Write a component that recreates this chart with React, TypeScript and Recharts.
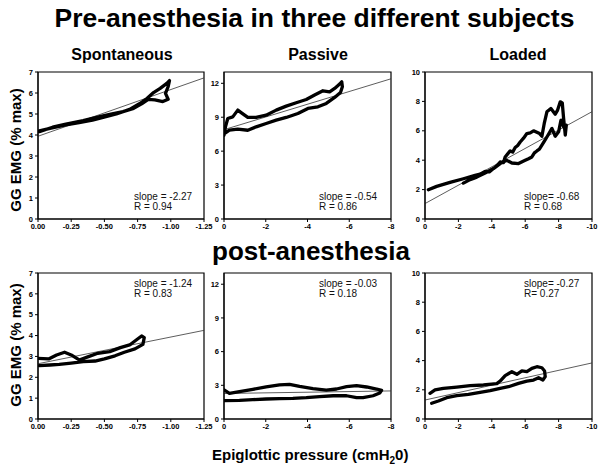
import { LineChart, Line, XAxis, YAxis, ReferenceArea } from "recharts";

type Pt = [number, number];

// epiglottic pressure (cmH2O) vs GG EMG (% max), traced loop by loop
const preSpontaneous: Pt[] = [
  [-0.01, 4.2], [-0.09, 4.32], [-0.21, 4.48], [-0.31, 4.59], [-0.41, 4.71],
  [-0.49, 4.84], [-0.59, 5.0], [-0.69, 5.22], [-0.77, 5.51], [-0.82, 5.74],
  [-0.87, 6.02], [-0.92, 6.22], [-0.97, 6.46], [-0.99, 6.59], [-0.98, 6.3],
  [-0.96, 5.98], [-0.98, 5.7], [-0.94, 5.59], [-0.88, 5.67], [-0.83, 5.7],
  [-0.78, 5.48], [-0.72, 5.27], [-0.64, 5.11], [-0.54, 4.98], [-0.44, 4.84],
  [-0.34, 4.68], [-0.21, 4.52], [-0.11, 4.37], [-0.01, 4.16],
];

const prePassive: Pt[] = [
  [0, 7.41], [-0.07, 8.15], [-0.18, 8.89], [-0.42, 9.03], [-0.66, 9.63],
  [-0.87, 9.34], [-1.14, 8.98], [-1.54, 8.98], [-2.02, 9.18], [-2.5, 9.63],
  [-2.98, 9.98], [-3.46, 10.28], [-3.94, 10.57], [-4.34, 10.96], [-4.74, 11.34],
  [-5.06, 11.25], [-5.3, 11.55], [-5.54, 11.93], [-5.64, 12.14], [-5.67, 11.7],
  [-5.58, 11.19], [-5.3, 10.75], [-4.9, 10.22], [-4.5, 9.92], [-4.02, 9.78],
  [-3.54, 9.33], [-2.98, 8.98], [-2.5, 8.74], [-2.02, 8.45], [-1.54, 8.15],
  [-1.14, 7.85], [-0.66, 7.94], [-0.26, 7.85], [-0.02, 7.56],
];

const preLoaded: Pt[] = [
  [-0.2, 1.99], [-0.7, 2.22], [-1.5, 2.49], [-2.3, 2.74], [-3.0, 2.97],
  [-3.3, 3.05], [-3.6, 3.24], [-3.85, 3.2], [-4.1, 3.43], [-4.3, 3.62],
  [-4.5, 3.88], [-4.7, 3.84], [-4.8, 4.22], [-5.0, 4.5], [-5.1, 4.63],
  [-5.25, 4.55], [-5.4, 4.86], [-5.55, 5.0], [-5.7, 5.24], [-5.9, 5.5],
  [-6.1, 5.81], [-6.3, 5.86], [-6.5, 6.0], [-6.86, 5.81], [-7.0, 5.63],
  [-7.14, 6.5], [-7.3, 7.29], [-7.54, 7.52], [-7.8, 7.13], [-7.94, 7.41],
  [-8.1, 7.97], [-8.22, 7.9], [-8.3, 6.84], [-8.4, 5.7], [-8.46, 6.38],
  [-8.3, 6.27], [-8.14, 6.72], [-8.0, 5.93], [-7.8, 5.63], [-7.6, 6.16],
  [-7.3, 5.58], [-7.15, 5.3], [-7.0, 5.02], [-6.85, 4.75], [-6.7, 4.63],
  [-6.55, 4.5], [-6.4, 4.22], [-6.2, 4.1], [-6.0, 3.99], [-5.6, 3.77],
  [-5.2, 3.81], [-4.9, 3.99], [-4.5, 3.77], [-4.1, 3.43], [-3.6, 3.13],
  [-3.1, 2.85], [-2.7, 2.68], [-2.3, 2.44],
];

const postSpontaneous: Pt[] = [
  [0, 2.91], [-0.08, 2.88], [-0.14, 3.07], [-0.2, 3.2], [-0.25, 3.07],
  [-0.31, 2.83], [-0.38, 2.99], [-0.45, 3.15], [-0.54, 3.23], [-0.62, 3.42],
  [-0.69, 3.55], [-0.74, 3.79], [-0.78, 3.98], [-0.8, 3.9], [-0.79, 3.58],
  [-0.73, 3.36], [-0.65, 3.2], [-0.58, 3.03], [-0.5, 2.88], [-0.43, 2.78],
  [-0.34, 2.75], [-0.25, 2.68], [-0.16, 2.62], [-0.09, 2.59], [-0.01, 2.56],
];

const postPassive: Pt[] = [
  [-0.02, 2.58], [-0.26, 2.29], [-0.74, 2.43], [-1.38, 2.64], [-2.02, 2.85],
  [-2.66, 3.03], [-3.14, 3.09], [-3.62, 2.91], [-4.26, 2.7], [-4.9, 2.58],
  [-5.39, 2.67], [-5.87, 2.88], [-6.35, 2.97], [-6.83, 2.85], [-7.31, 2.67],
  [-7.55, 2.55], [-7.46, 2.32], [-7.14, 2.07], [-6.66, 1.9], [-6.35, 1.9],
  [-5.87, 2.07], [-5.23, 2.07], [-4.58, 1.99], [-3.94, 1.9], [-3.3, 1.84],
  [-2.66, 1.81], [-2.02, 1.78], [-1.38, 1.72], [-0.74, 1.66], [-0.02, 1.63],
];

const postLoaded: Pt[] = [
  [-0.3, 1.76], [-0.6, 1.99], [-1.1, 2.1], [-1.9, 2.19], [-2.7, 2.28],
  [-3.5, 2.33], [-4.3, 2.42], [-4.5, 2.6], [-4.8, 2.97], [-5.2, 3.24],
  [-5.5, 3.06], [-5.8, 3.29], [-6.1, 3.24], [-6.4, 3.47], [-6.7, 3.58],
  [-7.0, 3.51], [-7.16, 3.29], [-7.2, 2.9], [-7.06, 2.67], [-6.8, 2.83],
  [-6.5, 2.67], [-6.1, 2.6], [-5.6, 2.44], [-5.0, 2.21], [-4.5, 2.1],
  [-3.9, 1.94], [-3.3, 1.83], [-2.6, 1.69], [-1.9, 1.6], [-1.3, 1.46],
  [-0.8, 1.23], [-0.4, 1.08],
];

const traces = [
  [preSpontaneous, prePassive, preLoaded],
  [postSpontaneous, postPassive, postLoaded],
];

// regression line, value at 0 and at the right end of the axis
const fitStart = [
  [3.94, 7.9, 1.05],
  [2.65, 2.27, 1.3],
];
const fitEnd = [
  [6.72, 12.4, 7.3],
  [4.25, 2.5, 3.84],
];

const slopeLabels = [
  ["slope = -2.27", "slope = -0.54", "slope= -0.68"],
  ["slope = -1.24", "slope = -0.03", "slope= -0.27"],
];
const rLabels = [
  ["R = 0.94", "R = 0.86", "R = 0.68"],
  ["R = 0.83", "R = 0.18", "R= 0.27"],
];

const columnTitles = ["Spontaneous", "Passive", "Loaded"];
const xTicks = [
  [0, -0.25, -0.5, -0.75, -1, -1.25],
  [0, -2, -4, -6, -8],
  [0, -2, -4, -6, -8, -10],
];
const yTicks = [
  [0, 1, 2, 3, 4, 5, 6, 7],
  [0, 3, 6, 9, 12],
  [0, 2, 4, 6, 8, 10],
];
const yMax = [7, 13, 10];

const colLeft = [38, 224, 425];
const colWidth = [166, 167, 167];
const rowTop = [72, 273];
const rowHeight = [147, 146];
const titleX = [122, 318, 518];
const noteDx = [96, 95, 99];
const noteY = [
  [200, 210],
  [287, 296.5],
];

const tickStyle = { fontSize: 7.5, fontWeight: 700, fill: "#000" };

const Panel = ({ row, col }: { row: number; col: number }) => {
  const left = colLeft[col];
  const top = rowTop[row];
  const w = colWidth[col];
  const h = rowHeight[row];
  const xt = xTicks[col];
  const xEnd = xt[xt.length - 1];
  const data = traces[row][col].map(([x, y]) => ({ x, y }));
  const fit = [
    { x: 0, y: fitStart[row][col] },
    { x: xEnd, y: fitEnd[row][col] },
  ];
  return (
    <div style={{ position: "absolute", left: left - 30, top: top - 10 }}>
      <LineChart
        width={w + 40}
        height={h + 32}
        margin={{ top: 10, right: 10, bottom: 0, left: 0 }}
      >
        <XAxis
          type="number"
          dataKey="x"
          domain={[xEnd, 0]}
          reversed
          ticks={xt}
          interval={0}
          allowDataOverflow
          height={22}
          tickSize={3}
          tickMargin={2}
          axisLine={{ stroke: "#000" }}
          tickLine={{ stroke: "#000" }}
          tick={tickStyle}
          tickFormatter={(v: number) => (col === 0 ? v.toFixed(2) : String(v))}
        />
        <YAxis
          type="number"
          domain={[0, yMax[col]]}
          ticks={yTicks[col]}
          interval={0}
          allowDataOverflow
          width={30}
          tickSize={3}
          tickMargin={2}
          axisLine={{ stroke: "#000" }}
          tickLine={{ stroke: "#000" }}
          tick={tickStyle}
        />
        <ReferenceArea
          x1={xEnd}
          x2={0}
          y1={0}
          y2={yMax[col]}
          fill="none"
          stroke="#000"
          strokeWidth={1.2}
          ifOverflow="visible"
        />
        <Line
          data={fit}
          dataKey="y"
          stroke="#333"
          strokeWidth={0.8}
          dot={false}
          isAnimationActive={false}
        />
        <Line
          data={data}
          dataKey="y"
          stroke="#000"
          strokeWidth={3.3}
          strokeLinejoin="round"
          strokeLinecap="round"
          dot={false}
          isAnimationActive={false}
        />
      </LineChart>
    </div>
  );
};

export default function App() {
  return (
    <div
      style={{
        position: "absolute",
        left: 0,
        top: 0,
        width: 603,
        height: 471,
        background: "#fff",
        fontFamily: "'Liberation Sans', Arial, Helvetica, sans-serif",
      }}
    >
      <svg
        width={603}
        height={471}
        style={{ position: "absolute", left: 0, top: 0 }}
      >
        <text x={314.5} y={27} textAnchor="middle" fontSize={26.5} fontWeight={700}>
          Pre-anesthesia in three different subjects
        </text>
        {columnTitles.map((t, i) => (
          <text key={t} x={titleX[i]} y={59.5} textAnchor="middle" fontSize={16} fontWeight={700}>
            {t}
          </text>
        ))}
        <text x={311} y={260} textAnchor="middle" fontSize={26} fontWeight={700}>
          post-anesthesia
        </text>
        {[150, 345].map((cy) => (
          <text
            key={cy}
            transform={`translate(21,${cy}) rotate(-90)`}
            textAnchor="middle"
            fontSize={15}
            fontWeight={700}
          >
            GG EMG (% max)
          </text>
        ))}
        <text x={212} y={460} fontSize={15} fontWeight={700}>
          Epiglottic pressure (cmH
          <tspan fontSize={10} dy={4}>2</tspan>
          <tspan dy={-4}>0)</tspan>
        </text>
        {[0, 1].map((r) =>
          [0, 1, 2].map((c) => (
            <g key={`${r}-${c}`} fontSize={10} fill="#111">
              <text x={colLeft[c] + noteDx[c]} y={noteY[r][0]}>
                {slopeLabels[r][c]}
              </text>
              <text x={colLeft[c] + noteDx[c]} y={noteY[r][1]}>
                {rLabels[r][c]}
              </text>
            </g>
          ))
        )}
      </svg>
      {[0, 1].map((r) => [0, 1, 2].map((c) => <Panel key={`${r}-${c}`} row={r} col={c} />))}
    </div>
  );
}
